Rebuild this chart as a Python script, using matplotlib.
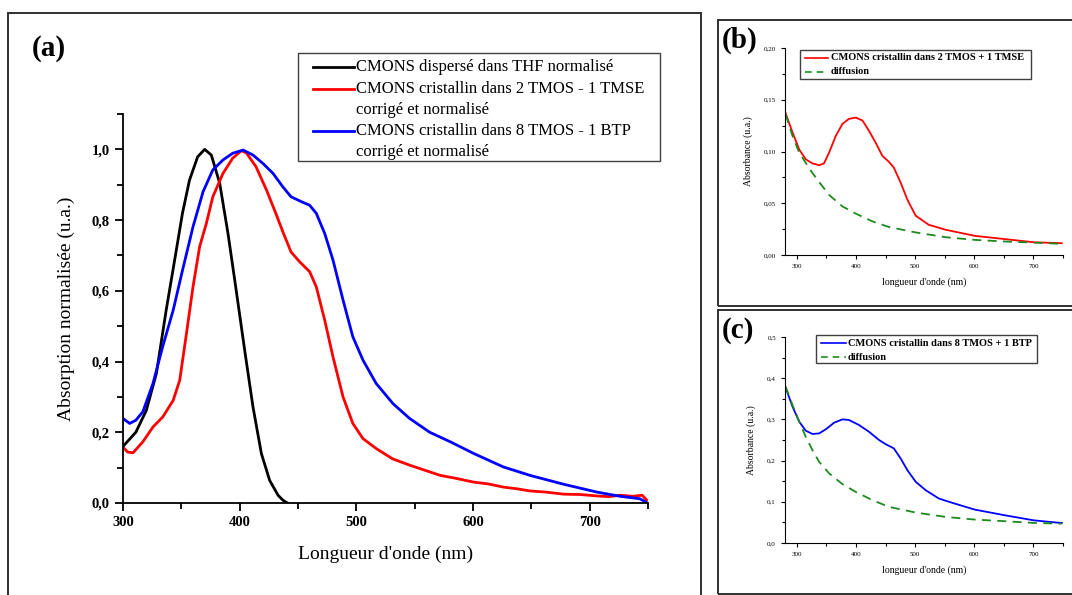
import matplotlib
matplotlib.use("Agg")
import matplotlib.pyplot as plt
from matplotlib.patches import Rectangle
from matplotlib.lines import Line2D
from matplotlib.ticker import MultipleLocator, FuncFormatter

plt.rcParams['font.family'] = ['Liberation Serif', 'DejaVu Serif']

# ---- panel (a) : spectres normalises
nm_thf = [300, 311, 320, 328.6, 337, 345.7, 351, 357, 364, 370, 375.7, 382.9, 390, 397, 404.3,
          411.4, 418.6, 425.7, 432.9, 437, 441]
abs_thf = [0.160, 0.20, 0.262, 0.366, 0.545, 0.715, 0.82, 0.913, 0.979, 1.0, 0.984, 0.904, 0.762,
           0.602, 0.432, 0.272, 0.14, 0.064, 0.022, 0.008, 0.0]

nm_tmse = [300, 304, 308.6, 317, 325.7, 334, 343, 348.6, 354, 360, 365.7, 371.4, 377, 385.7, 394,
           401.4, 405.7, 414, 423, 431, 437, 444, 451.4, 460, 465.7, 472.9, 480, 488.6, 497,
           505.7, 517, 531, 545.7, 562.9, 572, 585, 600.6, 613, 626, 638, 649, 662, 677.7,
           692, 706, 716, 726, 737, 745, 749]
abs_tmse = [0.158, 0.144, 0.142, 0.173, 0.215, 0.243, 0.29, 0.347, 0.47, 0.611, 0.725, 0.79, 0.866,
            0.932, 0.975, 0.996, 0.99, 0.951, 0.885, 0.819, 0.767, 0.71, 0.682, 0.654, 0.611,
            0.517, 0.413, 0.30, 0.225, 0.182, 0.154, 0.125, 0.107, 0.088, 0.078, 0.070, 0.059,
            0.054, 0.045, 0.040, 0.034, 0.031, 0.025, 0.024, 0.020, 0.018, 0.022, 0.019, 0.022, 0.008]

nm_btp = [300, 305.7, 311, 317, 325.7, 334, 343, 351, 360, 368.6, 377, 385.7, 394, 403, 411.4, 420,
          428.6, 437, 444, 452.9, 460, 465.7, 472.9, 480, 488.6, 497, 505.7, 517, 531.4, 545.7,
          562.9, 580.6, 600.6, 626, 649, 677.7, 706, 726, 743, 748]
abs_btp = [0.239, 0.225, 0.234, 0.258, 0.338, 0.442, 0.545, 0.658, 0.781, 0.88, 0.942, 0.97, 0.989,
           0.998, 0.984, 0.96, 0.932, 0.894, 0.866, 0.852, 0.842, 0.819, 0.762, 0.687, 0.574,
           0.47, 0.404, 0.338, 0.281, 0.239, 0.20, 0.173, 0.14, 0.102, 0.078, 0.053, 0.031,
           0.019, 0.012, 0.003]

labels_a = ["CMONS dispersé dans THF normalisé",
            "CMONS cristallin dans 2 TMOS - 1 TMSE\ncorrigé et normalisé",
            "CMONS cristallin dans 8 TMOS - 1 BTP\ncorrigé et normalisé"]
colors_a = ["black", "red", "blue"]

# ---- panel (b) : 2 TMOS + 1 TMSE
nm_b = [281, 292.7, 304, 315, 326, 337.7, 346, 354.6, 365.8, 377, 388, 399.6, 410.9, 422, 433,
        444.6, 455.9, 464, 475.6, 486.8, 500.9, 523, 551.5, 601, 652.8, 700.7, 748]
abs_b = [0.137, 0.1185, 0.102, 0.0925, 0.0886, 0.0867, 0.0886, 0.099, 0.115, 0.1266, 0.1315,
         0.1328, 0.13, 0.120, 0.1088, 0.0958, 0.0899, 0.0844, 0.0698, 0.0536, 0.038, 0.0292,
         0.0244, 0.0185, 0.0153, 0.0123, 0.0114]
nm_diff_b = [281, 292.7, 304, 315, 326, 337.7, 354.6, 377, 399.6, 427.7, 456, 501, 551.5, 601,
             652.8, 700.7, 748]
abs_diff_b = [0.136, 0.115, 0.099, 0.089, 0.0795, 0.0705, 0.058, 0.047, 0.040, 0.0325, 0.027,
              0.0218, 0.0172, 0.0146, 0.013, 0.012, 0.0107]

# ---- panel (c) : 8 TMOS + 1 BTP
nm_c = [280, 292.7, 304, 315, 326.4, 337.7, 349, 363, 377, 388, 405, 422, 439, 450, 464, 475.6,
        486.8, 501, 518, 540, 563, 601, 652.8, 700.7, 740, 748]
abs_c = [0.381, 0.331, 0.2946, 0.2727, 0.2646, 0.266, 0.276, 0.292, 0.300, 0.2987, 0.2865, 0.270,
         0.25, 0.240, 0.2297, 0.205, 0.177, 0.1485, 0.128, 0.108, 0.0974, 0.081, 0.067, 0.055,
         0.0495, 0.0487]
nm_diff_c = [281, 292.7, 304, 315, 326.4, 337.7, 354.6, 377, 399.6, 427.7, 456, 501, 551.5, 601,
             652.8, 700.7, 748]
abs_diff_c = [0.38, 0.335, 0.295, 0.258, 0.2256, 0.197, 0.169, 0.143, 0.124, 0.104, 0.0877, 0.0739,
              0.0633, 0.0568, 0.0528, 0.0487, 0.047]

legend_b = ["CMONS cristallin dans 2 TMOS + 1 TMSE", "diffusion"]
legend_c = ["CMONS cristallin dans 8 TMOS + 1 BTP", "diffusion"]
green = "#1e8a1e"

W, H = 1072, 595
fig = plt.figure(figsize=(W / 100, H / 100), dpi=100)


def box(x0, y0, x1, y1, lw=1.4, ec="#303030"):
    # rectangle en pixels (origine en haut a gauche)
    r = Rectangle((x0 / W, 1 - y1 / H), (x1 - x0) / W, (y1 - y0) / H, transform=fig.transFigure,
                  fill=False, lw=lw, ec=ec, clip_on=False)
    fig.add_artist(r)


def px_axes(x0, y0, x1, y1):
    return fig.add_axes([x0 / W, 1 - y1 / H, (x1 - x0) / W, (y1 - y0) / H])


def comma(fmt):
    return FuncFormatter(lambda v, p: (fmt % v).replace(".", ","))


def style(ax, lw, tl, ml):
    for s in ["top", "right"]:
        ax.spines[s].set_visible(False)
    for s in ["left", "bottom"]:
        ax.spines[s].set_linewidth(lw)
    ax.tick_params(which="major", direction="out", length=tl, width=lw)
    ax.tick_params(which="minor", direction="out", length=ml, width=lw)


def manual_legend(rows, x0, y0, x1, y1, hx0, hx1, tx, fs, weight, lw, lws):
    box(x0, y0, x1, y1, lw=1.0, ec="#404040")
    for (yy, color, ls, text) in rows:
        if color is not None:
            fig.add_artist(Line2D([hx0 / W, hx1 / W], [1 - yy / H, 1 - yy / H], color=color,
                                  ls=ls, lw=lws, transform=fig.transFigure))
        fig.text(tx / W, 1 - yy / H, text, fontsize=fs, fontweight=weight, va="center", ha="left")


# cadres
box(8, 12.5, 701, 600)
box(718, 20, 1080, 306.5)
box(718, 310, 1080, 594)

# ---------------- (a)
ax = px_axes(123, 114, 648, 503)
ax.plot(nm_thf, abs_thf, color=colors_a[0], lw=2)
ax.plot(nm_tmse, abs_tmse, color=colors_a[1], lw=2)
ax.plot(nm_btp, abs_btp, color=colors_a[2], lw=2)
ax.set_xlim(300, 750)
ax.set_ylim(0, 1.1)
ax.xaxis.set_major_locator(MultipleLocator(100))
ax.xaxis.set_minor_locator(MultipleLocator(50))
ax.yaxis.set_major_locator(MultipleLocator(0.2))
ax.yaxis.set_minor_locator(MultipleLocator(0.1))
ax.yaxis.set_major_formatter(comma("%.1f"))
style(ax, 1.3, 6, 4)
ax.tick_params(labelsize=10.5)
for t in ax.get_xticklabels() + ax.get_yticklabels():
    t.set_fontweight("bold")
ax.set_xlabel("Longueur d'onde (nm)", fontsize=14, labelpad=12)
ax.set_ylabel("Absorption normalisée (u.a.)", fontsize=14, labelpad=12)
fig.text(32 / W, 1 - 48 / H, "(a)", fontsize=21, fontweight="bold", va="center")

manual_legend([(67, colors_a[0], "-", labels_a[0].split("\n")[0]),
               (89, colors_a[1], "-", labels_a[1].split("\n")[0]),
               (110, None, "-", labels_a[1].split("\n")[1]),
               (131, colors_a[2], "-", labels_a[2].split("\n")[0]),
               (152, None, "-", labels_a[2].split("\n")[1])],
              298, 53, 660, 161, 313, 354, 356, 12, "normal", 1, 2)

# ---------------- (b)
axb = px_axes(785, 48, 1063, 255)
axb.plot(nm_b, abs_b, color="red", lw=1.3)
axb.plot(nm_diff_b, abs_diff_b, color=green, lw=1.3, ls=(0, (5, 3.5)))
axb.set_xlim(280, 750)
axb.set_ylim(0, 0.20)
axb.xaxis.set_major_locator(MultipleLocator(100))
axb.xaxis.set_minor_locator(MultipleLocator(50))
axb.yaxis.set_major_locator(MultipleLocator(0.05))
axb.yaxis.set_minor_locator(MultipleLocator(0.025))
axb.yaxis.set_major_formatter(comma("%.2f"))
style(axb, 0.8, 3, 2)
axb.tick_params(labelsize=5)
axb.set_xlabel("longueur d'onde (nm)", fontsize=7, labelpad=6)
axb.set_ylabel("Absorbance (u.a.)", fontsize=7, labelpad=8)
fig.text(722 / W, 1 - 40 / H, "(b)", fontsize=21, fontweight="bold", va="center")
manual_legend([(58, "red", "-", legend_b[0]), (72, green, (0, (4, 3)), legend_b[1])],
              800, 50, 1031, 79, 805, 828, 831, 7.5, "bold", 1, 1.2)

# ---------------- (c)
axc = px_axes(785, 337, 1063, 543)
axc.plot(nm_c, abs_c, color="blue", lw=1.3)
axc.plot(nm_diff_c, abs_diff_c, color=green, lw=1.3, ls=(0, (5, 3.5)))
axc.set_xlim(280, 750)
axc.set_ylim(0, 0.5)
axc.xaxis.set_major_locator(MultipleLocator(100))
axc.xaxis.set_minor_locator(MultipleLocator(50))
axc.yaxis.set_major_locator(MultipleLocator(0.1))
axc.yaxis.set_minor_locator(MultipleLocator(0.05))
axc.yaxis.set_major_formatter(comma("%.1f"))
style(axc, 0.8, 3, 2)
axc.tick_params(labelsize=5)
axc.set_xlabel("longueur d'onde (nm)", fontsize=7, labelpad=6)
axc.set_ylabel("Absorbance (u.a.)", fontsize=7, labelpad=8)
fig.text(722 / W, 1 - 330 / H, "(c)", fontsize=21, fontweight="bold", va="center")
manual_legend([(343, "blue", "-", legend_c[0]), (357, green, (0, (4, 3)), legend_c[1])],
              816, 335, 1037, 363, 821, 846, 848, 7.5, "bold", 1, 1.2)

fig.savefig("out.png", dpi=100)
